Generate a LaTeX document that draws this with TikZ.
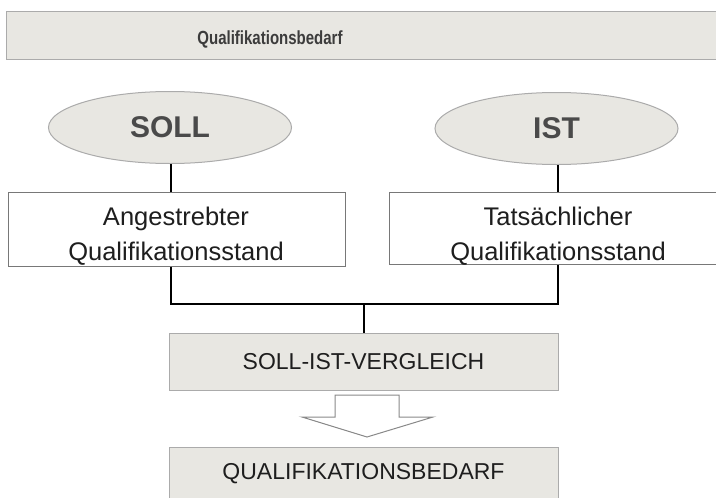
\documentclass[tikz,border=0pt]{standalone}
\usepackage{fontspec}
\setmainfont{Liberation Sans}
\usetikzlibrary{shapes.geometric}
\definecolor{boxfill}{HTML}{E8E7E2}
\definecolor{boxline}{HTML}{ABABAB}
\definecolor{ovaltext}{HTML}{4A4A4A}
\definecolor{bantext}{HTML}{3C3C3C}
\definecolor{maintext}{HTML}{1E1E1E}
\tikzset{
  greybox/.style={draw=boxline, line width=1pt, fill=boxfill, rectangle, inner sep=0pt},
  whitebox/.style={draw=boxline!70!black, line width=1pt, fill=white, rectangle, inner sep=0pt},
  boxtext/.style={inner sep=0pt, align=center, text=maintext, font=\fontsize{25.5}{35}\selectfont},
  oval/.style={ellipse, draw=boxline, line width=1pt, fill=boxfill, inner sep=0pt,
    minimum width=243pt, minimum height=72pt, text=ovaltext, font=\bfseries\fontsize{30}{36}\selectfont},
  conn/.style={line width=2pt, black},
  blockarrow/.style={draw=boxline!80!black, line width=1pt, fill=white, line join=miter}
}
\begin{document}
\begin{tikzpicture}[x=1pt,y=-1pt]
\clip (0,0) rectangle (716,498);
\fill[white] (0,0) rectangle (716,498);
% banner
\node[greybox, minimum width=718pt, minimum height=48pt] (banner) at (365,35) {};
\node[text=bantext, inner sep=0pt, font=\bfseries\fontsize{19}{22}\selectfont] (title) at (270,39.5) {\scalebox{0.79}[1]{Qualifikationsbedarf}};
% ovals
\node[oval] (soll) at (170,127.5) {SOLL};
\node[oval] (ist) at (556.5,128.5) {IST};
% boxes
\node[whitebox, minimum width=337pt, minimum height=74pt] (lbox) at (176.5,229) {};
\node[boxtext] (ltext) at (176,236) {Angestrebter\\Qualifikationsstand};
\node[whitebox, minimum width=338pt, minimum height=72pt] (rbox) at (558,228) {};
\node[boxtext] (rtext) at (558,236) {Tatsächlicher\\Qualifikationsstand};
\node[greybox, minimum width=389pt, minimum height=57pt, text=maintext, font=\fontsize{23}{27}\selectfont] (cmp) at (363.5,361.5) {SOLL-IST-VERGLEICH};
\node[greybox, minimum width=389pt, minimum height=53pt, text=maintext, font=\fontsize{23}{27}\selectfont] (need) at (363.5,473.5) {QUALIFIKATIONSBEDARF};
% connectors
\coordinate (j) at (364,304);
\draw[conn] (soll.south -| 171,0) -- (171,0 |- lbox.north);
\draw[conn] (ist.south -| 558,0) -- (558,0 |- rbox.north);
\draw[conn] (171,0 |- lbox.south) |- (j) -| (558,0 |- rbox.south);
\draw[conn] (j) -- (j |- cmp.north);
% block arrow
\draw[blockarrow] (335,395) -- (399,395) -- (399,417) -- (433,417) -- (367,437) -- (302,417) -- (335,417) -- cycle;
\end{tikzpicture}
\end{document}
